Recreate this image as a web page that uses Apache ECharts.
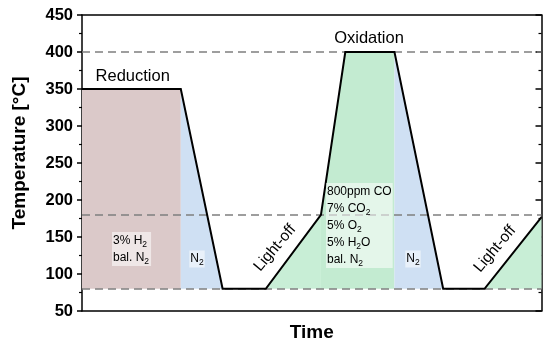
<!DOCTYPE html>
<html>
<head>
<meta charset="utf-8">
<script src="https://cdn.jsdelivr.net/npm/echarts@6/dist/echarts.min.js"></script>
<style>
html,body{margin:0;padding:0;background:#fff;}
#chart{width:550px;height:344px;}
</style>
</head>
<body>
<div id="chart"></div>
<script>
// Temperature programme (time in arbitrary units, temperature in °C)
const timeSteps    = [0, 21.5, 30.6, 40, 52, 57.3, 68, 78.6, 87.6, 100];
const temperatures = [350, 350, 80, 80, 180, 400, 400, 80, 80, 177];
// Shaded phases: [first point index, last point index]
const phaseNames   = ['Reduction', 'N2 purge 1', 'Light-off 1', 'Oxidation', 'N2 purge 2', 'Light-off 2'];
const phaseRanges  = [[0, 1], [1, 2], [3, 4], [4, 6], [6, 7], [8, 9]];
const phaseColors  = ['#dbc9c9', '#cfe0f3', '#c8eed6', '#c3ebd1', '#cfe0f3', '#c8eed6'];
// Dashed reference levels
const refLevels = [400, 180, 80];
const baseTemp = 80;
// Y axis ticks
const yMin = 50, yMax = 450, yStep = 50;

const profile = timeSteps.map((t, i) => [t, temperatures[i]]);

const FONT = 'Liberation Sans, Arial, sans-serif';

const areaSeries = phaseRanges.map((r, k) => ({
  name: phaseNames[k],
  type: 'line',
  data: profile.slice(r[0], r[1] + 1),
  symbol: 'none',
  lineStyle: { width: 0 },
  areaStyle: { color: phaseColors[k], opacity: 1, origin: baseTemp },
  silent: true,
  z: 1
}));

const rich = {
  n: { fontSize: 12, fontFamily: FONT, lineHeight: 17, verticalAlign: 'middle', color: '#000' },
  s: { fontSize: 8.5, fontFamily: FONT, lineHeight: 17, verticalAlign: 'bottom', color: '#000' }
};
const boxBg = 'rgba(255,255,255,0.55)';

function txt(x, y, text, opts, rot) {
  return {
    type: 'text', x: x, y: y, z: 100, rotation: rot || 0,
    style: Object.assign({
      text: text, x: 0, y: 0, fill: '#000',
      font: '16.5px ' + FONT, align: 'center', verticalAlign: 'middle'
    }, opts || {})
  };
}

const chart = echarts.init(document.getElementById('chart'), null, { renderer: 'canvas' });
chart.setOption({
  animation: false,
  backgroundColor: '#fff',
  grid: { left: 82, right: 8.5, top: 15, bottom: 33, containLabel: false, outerBoundsMode: 'none' },
  xAxis: [{
    type: 'value', min: 0, max: 100,
    name: 'Time', nameLocation: 'middle', nameGap: 12,
    nameTextStyle: { fontFamily: FONT, fontWeight: 'bold', fontSize: 19, color: '#000' },
    axisLine: { show: true, onZero: false, lineStyle: { color: '#000', width: 1.5 } },
    axisTick: { show: false }, axisLabel: { show: false }, splitLine: { show: false }
  }, {
    type: 'value', min: 0, max: 100, position: 'top',
    axisLine: { show: true, onZero: false, lineStyle: { color: '#000', width: 1.5 } },
    axisTick: { show: false }, axisLabel: { show: false }, splitLine: { show: false }
  }],
  yAxis: [{
    type: 'value', min: yMin, max: yMax, interval: yStep,
    axisLine: { show: true, onZero: false, lineStyle: { color: '#000', width: 1.5 } },
    axisTick: { show: true, inside: false, length: 5, lineStyle: { color: '#000', width: 1.5 } },
    minorTick: { show: true, splitNumber: 2, length: 3, lineStyle: { color: '#000', width: 1.2 } },
    axisLabel: { fontFamily: FONT, fontWeight: 'bold', fontSize: 16.5, color: '#000', margin: 9 },
    splitLine: { show: false }
  }, {
    type: 'value', min: yMin, max: yMax, interval: yStep, position: 'right',
    axisLine: { show: true, onZero: false, lineStyle: { color: '#000', width: 1.5 } },
    axisTick: { show: true, inside: true, length: 6, lineStyle: { color: '#000', width: 1.5 } },
    minorTick: { show: true, splitNumber: 2, length: 3, lineStyle: { color: '#000', width: 1.2 } },
    axisLabel: { show: false }, splitLine: { show: false }
  }],
  series: areaSeries.concat([{
    name: 'Reference levels',
    type: 'line', data: [], silent: true, z: 5,
    markLine: {
      silent: true, symbol: 'none', label: { show: false },
      lineStyle: { type: [8, 5], color: '#7f7f7f', width: 1.5 },
      data: refLevels.map(v => ({ yAxis: v }))
    }
  }, {
    name: 'Temperature',
    type: 'line', data: profile, symbol: 'none', z: 10,
    lineStyle: { color: '#000', width: 2, join: 'miter' }
  }]),
  graphic: [
    txt(20, 153, 'Temperature [°C]', { font: 'bold 19px ' + FONT }, Math.PI / 2),
    txt(132.7, 76, 'Reduction'),
    txt(369, 38.5, 'Oxidation'),
    txt(275, 248, 'Light-off', { font: '15.5px ' + FONT }, 50 * Math.PI / 180),
    txt(495, 249, 'Light-off', { font: '15.5px ' + FONT }, 50 * Math.PI / 180),
    txt(112, 232, '{n|3% H}{s|2}\n{n|bal. N}{s|2}', { align: 'left', verticalAlign: 'top', rich: rich, backgroundColor: boxBg, padding: [0, 2, 0, 1] }),
    txt(197, 259, '{n|N}{s|2}', { rich: rich, backgroundColor: boxBg, padding: [0, 1, 0, 1] }),
    txt(326, 183, '{n|800ppm CO}\n{n|7% CO}{s|2}\n{n|5% O}{s|2}\n{n|5% H}{s|2}{n|O}\n{n|bal. N}{s|2}', { align: 'left', verticalAlign: 'top', rich: rich, backgroundColor: boxBg, padding: [0, 1, 0, 1] }),
    txt(413, 259, '{n|N}{s|2}', { rich: rich, backgroundColor: boxBg, padding: [0, 1, 0, 1] })
  ]
});
</script>
</body>
</html>
